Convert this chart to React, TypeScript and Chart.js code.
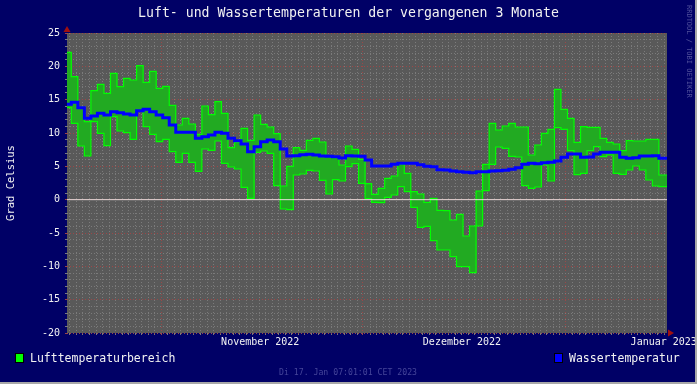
import React, { useEffect, useRef } from 'react';
import { Chart, registerables } from 'chart.js';

Chart.register(...registerables);

const TITLE = 'Luft- und Wassertemperaturen der vergangenen 3 Monate';
const Y_TITLE = 'Grad Celsius';
const LEGEND_AIR = 'Lufttemperaturbereich';
const LEGEND_WATER = 'Wassertemperatur';
const TIMESTAMP = 'Di 17. Jan 07:01:01 CET 2023';
const WATERMARK = 'RRDTOOL / TOBI OETIKER';

// daily air temperature range (max / min) and water temperature, °C
const AIR_MAX = [
  22.1, 18.45, 13.85, 11.7, 16.35, 17.3, 15.95, 18.95, 16.95, 18.2,
  17.95, 20.1, 17.6, 19.25, 16.7, 17.0, 14.15, 11.2, 12.2, 11.35,
  9.8, 14.05, 12.75, 14.7, 12.95, 7.8, 8.6, 10.7, 8.9, 12.7,
  11.3, 10.9, 9.9, 2.05, 5.0, 7.8, 7.4, 8.9, 9.2, 8.65,
  6.5, 6.3, 5.2, 8.05, 7.55, 6.05, 2.4, 0.8, 1.7, 3.2,
  3.55, 5.3, 3.95, 1.2, 0.85, -0.4, 0.2, -1.6, -1.65, -3.05,
  -2.2, -5.45, -3.95, 1.3, 5.3, 11.45, 10.45, 11.05, 11.45, 10.9,
  10.9, 6.7, 8.2, 9.95, 10.55, 16.55, 13.55, 12.2, 8.6, 10.95,
  10.85, 10.85, 9.2, 8.6, 8.35, 7.35, 8.85, 8.8, 8.8, 9.05,
  9.05, 3.7, 3.7,
];
const AIR_MIN = [
  13.8, 11.45, 8.05, 6.55, 11.7, 9.95, 8.1, 12.45, 10.3, 10.05,
  9.05, 13.35, 10.95, 9.8, 8.7, 9.05, 7.2, 5.6, 6.95, 5.6,
  4.25, 7.6, 7.4, 8.8, 5.45, 4.9, 4.6, 1.85, 0.2, 7.1,
  7.3, 6.95, 2.1, -1.4, -1.5, 3.7, 3.85, 4.4, 4.3, 2.9,
  0.85, 3.0, 2.8, 4.95, 5.4, 2.45, 0.15, -0.4, -0.45, 0.35,
  0.7, 1.95, 1.2, -1.15, -4.15, -4.0, -6.15, -7.55, -7.55, -8.55,
  -10.05, -10.05, -10.95, -3.95, 1.35, 5.3, 7.9, 7.7, 6.5, 6.4,
  2.1, 1.7, 1.9, 5.2, 2.8, 10.8, 10.55, 7.35, 3.75, 3.95,
  7.35, 7.95, 6.45, 6.7, 3.95, 3.8, 4.45, 5.05, 4.45, 2.95,
  2.05, 1.95, 1.95,
];
const WATER_TEMP = [
  14.3, 14.6, 13.8, 12.2, 12.55, 12.95, 12.7, 13.2, 13.05, 12.85,
  12.7, 13.35, 13.55, 13.2, 12.7, 12.3, 11.2, 10.1, 10.1, 10.1,
  9.2, 9.45, 9.7, 10.1, 9.95, 9.2, 8.85, 8.35, 7.2, 7.95,
  8.7, 8.95, 8.7, 7.6, 6.55, 6.6, 6.75, 6.8, 6.7, 6.55,
  6.5, 6.45, 6.25, 6.6, 6.55, 6.5, 5.95, 5.05, 5.05, 5.05,
  5.3, 5.45, 5.45, 5.45, 5.25, 5.0, 4.95, 4.5, 4.45, 4.3,
  4.2, 4.1, 4.05, 4.2, 4.2, 4.3, 4.35, 4.4, 4.55, 4.8,
  5.3, 5.45, 5.4, 5.55, 5.6, 5.8, 6.35, 6.85, 6.85, 6.35,
  6.4, 6.85, 7.1, 7.1, 7.1, 6.35, 6.2, 6.3, 6.55, 6.55,
  6.6, 6.2, 6.2,
];

// time axis in days since the left edge of the graph
const SPAN_DAYS = 91.9;
const FIRST_DAY_FRACTION = 0.66;
const MONTH_LABELS = ['November 2022', 'Dezember 2022', 'Januar 2023'];
const MONTH_START_DAYS = [14.45, 45.3, 76.4];
const MONTH_LABEL_DAYS = [29.6, 60.5, 91.4];

const Y_MIN = -20;
const Y_MAX = 25;
const Y_LABEL_STEP = 5;

const FONT = '"DejaVu Sans Mono", "Liberation Mono", monospace';
const NAVY = '#000066';
const PLOT_BG = '#595959';
const MINOR_GRID = '#7b7b7b';
const MAJOR_GRID = '#9a4848';
const TEXT = '#f2f2f2';

const stepX = (i: number) => (i === 0 ? 0 : FIRST_DAY_FRACTION + i - 1);
const toPoints = (arr: number[]) => {
  const pts = arr.map((y, i) => ({ x: stepX(i), y }));
  pts.push({ x: stepX(arr.length), y: arr[arr.length - 1] });
  return pts;
};

const X_GRID: number[] = (() => {
  const out: number[] = [];
  for (let v = MONTH_START_DAYS[0] % 1; v <= SPAN_DAYS; v += 1) {
    if (!MONTH_START_DAYS.some((m) => Math.abs(m - v) < 0.5)) out.push(v);
  }
  return out.concat(MONTH_START_DAYS).sort((a, b) => a - b);
})();
const Y_GRID: number[] = (() => {
  const out: number[] = [];
  for (let v = Y_MIN; v <= Y_MAX; v++) out.push(v);
  return out;
})();

const isMonth = (v: number) => MONTH_START_DAYS.some((m) => Math.abs(m - v) < 1e-6);

const rrdPlugin = {
  id: 'rrdLook',
  beforeDraw(chart: any) {
    const { ctx, chartArea: a, width, height } = chart;
    ctx.save();
    ctx.fillStyle = NAVY;
    ctx.fillRect(0, 0, width, height);
    ctx.fillStyle = PLOT_BG;
    ctx.fillRect(a.left, a.top, a.right - a.left, a.bottom - a.top);
    ctx.restore();
  },
  afterDraw(chart: any) {
    const { ctx, chartArea: a, width, height } = chart;
    ctx.save();
    // title
    ctx.fillStyle = TEXT;
    ctx.font = `13.2px ${FONT}`;
    ctx.textAlign = 'center';
    ctx.textBaseline = 'middle';
    ctx.fillText(TITLE, width / 2, 14);

    // legend
    ctx.font = `11.5px ${FONT}`;
    ctx.textAlign = 'left';
    ctx.fillStyle = '#00ff00';
    ctx.fillRect(16, 354, 7, 8);
    ctx.strokeStyle = '#000000';
    ctx.lineWidth = 1;
    ctx.strokeRect(15.5, 353.5, 8, 9);
    ctx.fillStyle = TEXT;
    ctx.fillText(LEGEND_AIR, 30, 359);
    ctx.fillStyle = '#0000ff';
    ctx.fillRect(555, 354, 7, 8);
    ctx.strokeRect(554.5, 353.5, 8, 9);
    ctx.fillStyle = TEXT;
    ctx.fillText(LEGEND_WATER, 569, 359);

    // timestamp
    ctx.font = `8.2px ${FONT}`;
    ctx.fillStyle = '#45459a';
    ctx.textAlign = 'center';
    ctx.fillText(TIMESTAMP, 348, 373);

    // watermark
    ctx.save();
    ctx.translate(689, 5);
    ctx.rotate(Math.PI / 2);
    ctx.font = `7px ${FONT}`;
    ctx.fillStyle = '#50509c';
    ctx.textAlign = 'left';
    ctx.textBaseline = 'middle';
    ctx.fillText(WATERMARK, 0, 0);
    ctx.restore();

    // axis arrows
    ctx.fillStyle = '#a01010';
    ctx.beginPath();
    ctx.moveTo(a.left - 3.5, a.top - 1);
    ctx.lineTo(a.left + 3.5, a.top - 1);
    ctx.lineTo(a.left, a.top - 7);
    ctx.closePath();
    ctx.fill();
    ctx.beginPath();
    ctx.moveTo(a.right + 1, a.bottom - 3.5);
    ctx.lineTo(a.right + 1, a.bottom + 3.5);
    ctx.lineTo(a.right + 7, a.bottom);
    ctx.closePath();
    ctx.fill();

    // frame shade
    ctx.fillStyle = '#a8a8a8';
    ctx.fillRect(width - 2, 0, 2, height);
    ctx.fillRect(0, height - 2, width, 2);
    ctx.restore();
  },
};

export default function App() {
  const ref = useRef<HTMLCanvasElement>(null);
  useEffect(() => {
    const canvas = ref.current;
    if (!canvas) return;
    const chart = new Chart(canvas, {
      type: 'line',
      data: {
        datasets: [
          {
            label: LEGEND_WATER,
            data: toPoints(WATER_TEMP),
            borderColor: '#0000ff',
            borderWidth: 3,
            stepped: true,
            pointRadius: 0,
            fill: false,
            clip: 0,
          },
          {
            label: 'zero',
            data: [
              { x: 0, y: 0 },
              { x: SPAN_DAYS, y: 0 },
            ],
            borderColor: 'rgba(240,225,225,0.95)',
            borderWidth: 1,
            pointRadius: 0,
            fill: false,
            clip: 0,
          },
          {
            label: LEGEND_AIR,
            data: toPoints(AIR_MAX),
            borderColor: '#00ff00',
            borderWidth: 1.2,
            backgroundColor: '#22aa22',
            fill: '+1',
            stepped: true,
            pointRadius: 0,
            clip: 0,
          },
          {
            label: 'min',
            data: toPoints(AIR_MIN),
            borderColor: '#00ff00',
            borderWidth: 1.2,
            fill: false,
            stepped: true,
            pointRadius: 0,
            clip: 0,
          },
        ] as any,
      },
      options: {
        responsive: false,
        animation: false,
        devicePixelRatio: 1,
        layout: { padding: { left: 0, right: 30, top: 33, bottom: 0 }, autoPadding: false },
        plugins: {
          legend: { display: false },
          title: { display: false },
          tooltip: { enabled: false },
          filler: { drawTime: 'beforeDatasetsDraw', propagate: false },
        } as any,
        elements: { line: { tension: 0 } },
        scales: {
          x: {
            type: 'linear',
            position: 'bottom',
            weight: 0,
            min: 0,
            max: SPAN_DAYS,
            afterBuildTicks: (s: any) => {
              s.ticks = X_GRID.map((v) => ({ value: v }));
            },
            afterFit: (s: any) => {
              s.height = 3;
            },
            ticks: { display: false, autoSkip: false },
            grid: {
              color: (c: any) => (c.tick && isMonth(c.tick.value) ? MAJOR_GRID : MINOR_GRID),
              lineWidth: 1,
              tickLength: 2,
            },
            border: { display: false, dash: [1, 2] },
          },
          xl: {
            type: 'linear',
            position: 'bottom',
            weight: 1,
            min: 0,
            max: SPAN_DAYS,
            afterBuildTicks: (s: any) => {
              s.ticks = MONTH_LABEL_DAYS.map((v) => ({ value: v }));
            },
            afterFit: (s: any) => {
              s.height = 48;
            },
            ticks: {
              callback: (_v: any, i: number) => MONTH_LABELS[i],
              color: TEXT,
              font: { family: FONT, size: 10 },
              padding: 0,
              maxRotation: 0,
              minRotation: 0,
              autoSkip: false,
            },
            grid: { display: false, drawTicks: false },
            border: { display: false },
          },
          y: {
            type: 'linear',
            position: 'left',
            min: Y_MIN,
            max: Y_MAX,
            afterBuildTicks: (s: any) => {
              s.ticks = Y_GRID.map((v) => ({ value: v }));
            },
            afterFit: (s: any) => {
              s.width = 67;
            },
            ticks: {
              callback: (v: any) => (Number(v) % Y_LABEL_STEP === 0 ? String(v) : ''),
              color: TEXT,
              font: { family: FONT, size: 10 },
              padding: 5,
              autoSkip: false,
            },
            grid: {
              color: (c: any) =>
                c.tick && c.tick.value % Y_LABEL_STEP === 0 ? MAJOR_GRID : MINOR_GRID,
              lineWidth: 1,
              tickLength: 2,
            },
            border: { display: false, dash: [1, 2] },
            title: {
              display: true,
              text: Y_TITLE,
              color: TEXT,
              font: { family: FONT, size: 10.5 },
              padding: { top: 5, bottom: 0 },
            },
          },
        } as any,
      },
      plugins: [rrdPlugin],
    });
    return () => chart.destroy();
  }, []);

  return (
    <div style={{ position: 'fixed', left: 0, top: 0, width: 697, height: 384, background: NAVY }}>
      <canvas ref={ref} width={697} height={384} style={{ display: 'block', width: 697, height: 384 }} />
    </div>
  );
}
